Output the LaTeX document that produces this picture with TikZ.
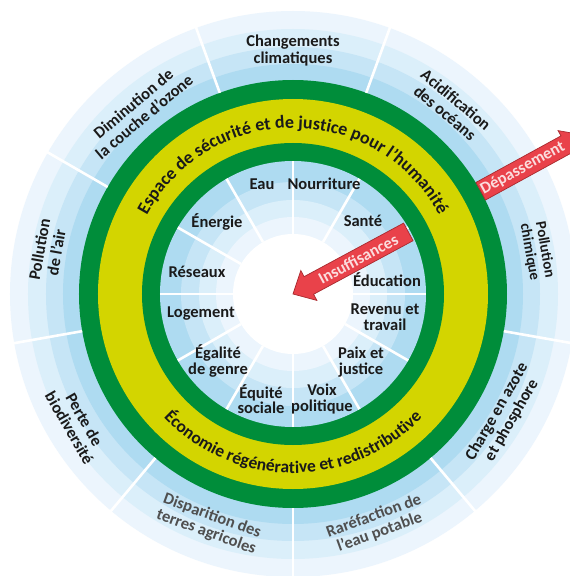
\documentclass[tikz,border=0pt]{standalone}
\usepackage{fontspec}
\setmainfont{Carlito}
\usetikzlibrary{decorations.text}
\definecolor{bA}{HTML}{AEDBF1}
\definecolor{bB}{HTML}{C6E5F6}
\definecolor{bC}{HTML}{DBEFFA}
\definecolor{bD}{HTML}{ECF5FD}
\definecolor{dgreen}{HTML}{008D3A}
\definecolor{dyellow}{HTML}{D3D500}
\definecolor{ared}{HTML}{E9424A}
\definecolor{aredline}{HTML}{A82A2E}
\definecolor{txt}{HTML}{1A1A1A}
\definecolor{greytxt}{HTML}{4F4F4F}
\begin{document}
\begin{tikzpicture}[x=1pt,y=1pt,
  spoke/.style={white, line width=2.6pt},
  outerlbl/.style={font=\bfseries\fontsize{16.5}{17}\selectfont, text=txt, align=center, inner sep=0pt},
  innerlbl/.style={font=\bfseries\fontsize{16.5}{15.5}\selectfont, text=txt, align=center, inner sep=0pt},
  arrowbody/.style={fill=ared, draw=aredline, line width=0.7pt, line join=miter},
  arrowtxt/.style={font=\bfseries\fontsize{16.5}{16}\selectfont, text=white!82!ared, inner sep=0pt}]
\useasboundingbox (-293,-282) rectangle (277,294);
\fill[white] (-293,-282) rectangle (277,294);
% outer planetary boundary bands
\fill[bD] (0,0) circle[radius=283];
\fill[bC] (0,0) circle[radius=265];
\fill[bB] (0,0) circle[radius=247];
\fill[bA] (0,0) circle[radius=230];
% doughnut
\fill[dgreen] (0,0) circle[radius=214];
\fill[dyellow] (0,0) circle[radius=195];
\fill[dgreen] (0,0) circle[radius=151];
% social foundation bands
\fill[bA] (0,0) circle[radius=133];
\fill[bB] (0,0) circle[radius=112];
\fill[bC] (0,0) circle[radius=94];
\fill[bD] (0,0) circle[radius=77];
\fill[white] (0,0) circle[radius=60];
% spokes
\foreach \a in {70,30,-10,-50,-90,-130,-170,150,110} \draw[spoke] (\a:214) -- (\a:290);
\foreach \a in {0,30,...,330} \draw[spoke] (\a:60) -- (\a:133);
% inner labels
\node[innerlbl] (eau) at (-31,110) {Eau};
\node[innerlbl] (nourr) at (31,110) {Nourriture};
\node[innerlbl] (sante) at (70,73) {Santé};
\node[innerlbl] (educ) at (94,14) {Éducation};
\node[innerlbl] (revenu) at (92,-23) {Revenu et\\travail};
\node[innerlbl] (paix) at (68,-68) {Paix et\\justice};
\node[innerlbl] (voix) at (29,-105) {Voix\\politique};
\node[innerlbl] (equite) at (-32,-105) {Équité\\sociale};
\node[innerlbl] (egal) at (-75,-67) {Égalité\\de genre};
\node[innerlbl] (logement) at (-92,-20) {Logement};
\node[innerlbl] (reseaux) at (-96,22) {Réseaux};
\node[innerlbl] (energie) at (-76,72) {Énergie};
% outer labels
\node[outerlbl] (climat) at (90:243) {Changements\\climatiques};
\node[outerlbl, rotate=-40] (acid) at (50:245) {Acidification\\des océans};
\node[outerlbl, rotate=-80, font=\bfseries\fontsize{15}{15.5}\selectfont] (chim) at (10:248) {Pollution\\chimique};
\node[outerlbl, rotate=60] (azote) at (-30:244) {Charge en azote\\et phosphore};
\node[outerlbl, rotate=20, text=greytxt] (eaupot) at (-70:245) {Raréfaction de\\l'eau potable};
\node[outerlbl, rotate=-20, text=greytxt] (terres) at (-110:245) {Disparition des\\terres agricoles};
\node[outerlbl, rotate=-60] (biodiv) at (-149:252) {Perte de\\biodiversité};
\node[outerlbl, rotate=80] (air) at (170:249) {Pollution\\de l'air};
\node[outerlbl, rotate=40] (ozone) at (130:240) {Diminution de\\la couche d'ozone};
% ring texts
\path[decorate, decoration={text along path, text align=center, text={|\bfseries\fontsize{18}{18}\selectfont\color{txt}|Espace de sécurité et de justice pour l'humanité}}] (175:166) arc[start angle=175, end angle=5, radius=166];
\path[decorate, decoration={text along path, text align=center, text={|\bfseries\fontsize{17.5}{17.5}\selectfont\color{txt}|Économie régénérative et redistributive}}] (200:179) arc[start angle=200, end angle=340, radius=179];
% arrows
\begin{scope}[rotate=28.3]
  \draw[arrowbody] (0,0) -- (18,17) -- (18,10) -- (131,10) -- (131,-10) -- (18,-10) -- (18,-17) -- cycle;
  \node[arrowtxt, rotate=28.3] (insuf) at (74,0) {Insuffisances};
\end{scope}
\begin{scope}[rotate=28.7]
  \draw[arrowbody] (214,10) -- (311,10) -- (311,16) -- (331,0) -- (311,-16) -- (311,-10) -- (214,-10) -- cycle;
  \node[arrowtxt, rotate=28.7] (depass) at (262,0) {Dépassement};
\end{scope}
\end{tikzpicture}
\end{document}
